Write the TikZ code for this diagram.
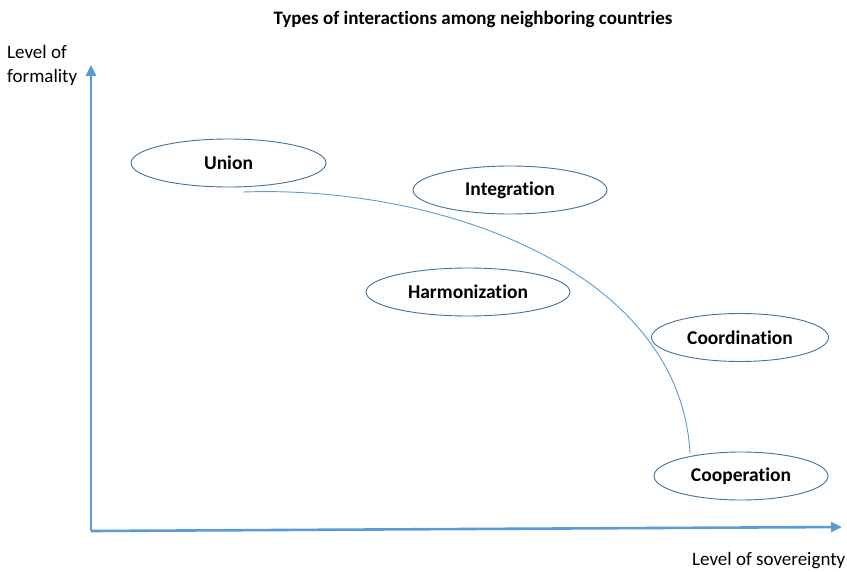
\documentclass[tikz,border=0pt]{standalone}
\usepackage{fontspec}
\setmainfont{Carlito}[RawFeature=-liga]
\usepackage{xcolor}
\usetikzlibrary{positioning,arrows.meta,shapes.geometric}
\definecolor{axisblue}{HTML}{5B9BD5}
\definecolor{edgeblue}{HTML}{41719C}
\begin{document}
\begin{tikzpicture}[x=1pt,y=-1pt,
		kind/.style={ellipse,draw=edgeblue,line width=0.9pt,minimum width=#1,minimum height=48pt,inner sep=0pt,font=\fontsize{19.5}{22}\selectfont\bfseries},
		axis/.style={draw=axisblue,line width=2.6pt,-{Triangle[length=11pt,width=10pt]}}]
			\useasboundingbox (0,0) rectangle (847,571);
			
			\node[font=\fontsize{19}{22}\selectfont\bfseries] (title) at (473,19) {Types of interactions among neighboring countries};
			
			\coordinate (origin) at (91,531);
			\coordinate (ytip) at (91,65);
			\coordinate (xtip) at (842,527);
			\draw[axis] (origin) -- (ytip);
			\draw[axis] (origin) -- (xtip);
			
			\node[align=left,anchor=north west,inner sep=0pt,font=\fontsize{19}{24}\selectfont] (ylab) at (7,45) {Level of\\formality};
			\node[anchor=west,inner sep=0pt,font=\fontsize{19}{22}\selectfont] (xlab) at (692,561) {Level of sovereignty};
			
			\node[kind=195pt] (union) at (228.5,163) {Union};
			\node[kind=194pt] (integ) at (510,190) {Integration};
			\node[kind=204pt] (harmo) at (468,292) {Harmonization};
			\node[kind=177pt] (coord) at (740,337.5) {Coordination};
			\node[kind=174pt] (coop) at (741,476) {Cooperation};
			
			\coordinate (curvestart) at (243,192);
			\coordinate (curveend) at (690,453);
			\draw[axisblue,line width=0.9pt] (curvestart) .. controls (440,185) and (680,270) .. (curveend);
		\end{tikzpicture}
\end{document}
